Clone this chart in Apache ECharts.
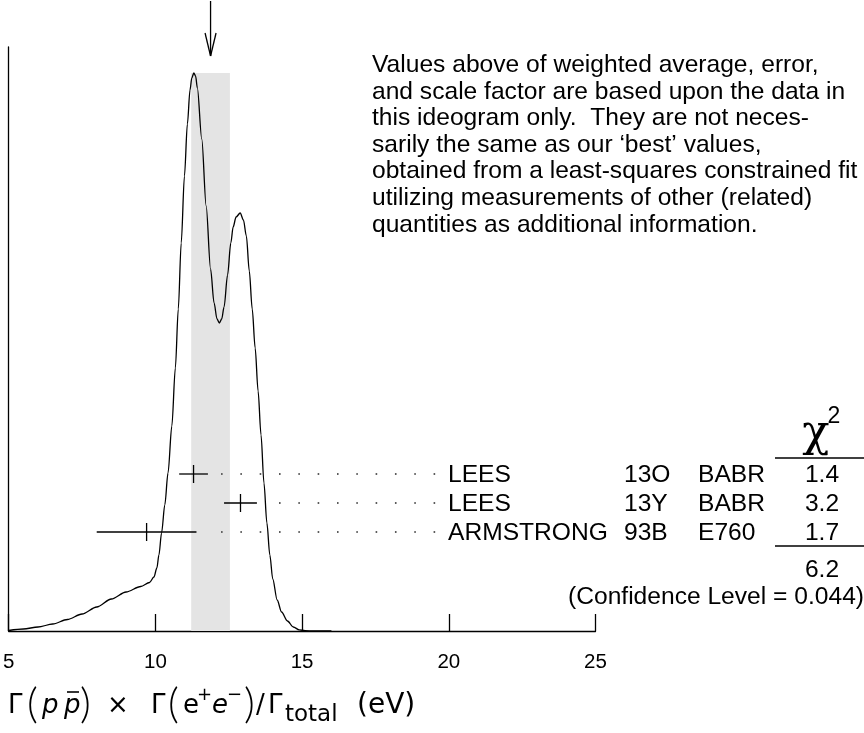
<!DOCTYPE html>
<html><head><meta charset="utf-8">
<script src="https://cdn.jsdelivr.net/npm/echarts@6.0.0/dist/echarts.min.js"></script>
<style>html,body{margin:0;padding:0;background:#fff}#c{width:864px;height:733px}</style>
</head><body><div id="c"></div>
<script>
// ---- data ----
const curveX = [5.0, 5.5, 6.0, 6.5, 7.0, 7.5, 8.0, 8.5, 9.0, 9.5, 9.8, 9.95, 10.05, 10.12, 10.21, 10.32, 10.43, 10.56, 10.68, 10.78, 10.88, 10.99, 11.09, 11.18, 11.24, 11.31, 11.37, 11.43, 11.58, 11.73, 11.88, 12.0, 12.1, 12.18, 12.26, 12.34, 12.46, 12.57, 12.65, 12.75, 12.89, 13.0, 13.1, 13.2, 13.3, 13.4, 13.5, 13.6, 13.7, 13.8, 13.9, 14.0, 14.15, 14.3, 14.5, 14.7, 14.9, 15.1, 15.4, 16.0];
const curveY = [0.5, 2, 4, 7, 11.5, 17, 24, 32, 39, 44.5, 48.5, 54, 63, 76, 98, 126, 158, 205, 263, 322, 388, 455, 507, 541, 553, 558, 555, 543, 492, 425, 362, 328, 312, 308, 312, 324, 356, 388, 404, 414, 418, 411, 395, 360, 322, 283, 240, 196, 148, 108, 76, 52, 31, 19, 10, 4, 1.2, 0.3, 0, 0];
const measNames = ['LEES', 'LEES', 'ARMSTRONG'];
const measRefs = ['13O', '13Y', '93B'];
const measExps = ['BABR', 'BABR', 'E760'];
const measValue = [11.3, 12.9, 9.7];
const measError = [0.49, 0.56, 1.7];
const measChi2 = ['1.4', '3.2', '1.7'];
const chi2Total = '6.2';
const confLevel = '0.044';
const wAverage = 11.88;
const wError = 0.66;
const xTicks = [5, 10, 15, 20, 25];
const noteText = [
  'Values above of weighted average, error,',
  'and scale factor are based upon the data in',
  'this ideogram only.  They are not neces-',
  'sarily the same as our \u2018best\u2019 values,',
  'obtained from a least-squares constrained fit',
  'utilizing measurements of other (related)',
  'quantities as additional information.'
];

// ---- layout ----
const FONT = '"Liberation Sans", Arial, Helvetica, sans-serif';
const FS = 24.6;
const ROW0 = 157, ROWSTEP = 29;      // row heights in y-axis units
const TICK = 9;
const DOT_START = 12.264, DOT_STEP = 0.6586, DOT_END = 19.6;
const Y_MAX = 584;

const chart = echarts.init(document.getElementById('c'), null, {renderer: 'canvas'});

const curveData = curveX.map((x, i) => [x, curveY[i]]);
const bandTop = Math.max.apply(null, curveY);

function blackLine(x1, y1, x2, y2, w) {
  return {type: 'line', shape: {x1, y1, x2, y2}, style: {stroke: '#000', lineWidth: w || 1.3}};
}
function txt(text, x, y, font, align, extra) {
  return Object.assign({type: 'text', x: x, y: y, z: 10,
    style: {text: text, font: font, fill: '#000', align: align || 'left', verticalAlign: 'middle',
      textAlign: align || 'left', textVerticalAlign: 'middle'}}, extra || {});
}

const graphics = [];
// note text
graphics.push({type: 'text', x: 372, y: 52, z: 10,
  style: {text: noteText.join('\n'), font: FS + 'px ' + FONT, fill: '#000', lineHeight: 26.6,
    align: 'left', verticalAlign: 'top', textAlign: 'left', textVerticalAlign: 'top'}});
// table
const colName = 448, colRef = 624, colExp = 698, colChi = 822;
const rowPy = [475.5, 504.5, 533];
measNames.forEach((n, i) => {
  const y = rowPy[i];
  graphics.push(txt(n, colName, y, FS + 'px ' + FONT, 'left'));
  graphics.push(txt(measRefs[i], colRef, y, FS + 'px ' + FONT, 'left'));
  graphics.push(txt(measExps[i], colExp, y, FS + 'px ' + FONT, 'left'));
  graphics.push(txt(measChi2[i], colChi, y, FS + 'px ' + FONT, 'center'));
});
graphics.push(txt('\u03c7', 816, 434, '45px "DejaVu Serif", serif', 'center'));
graphics.push(txt('2', 834, 417, '23px ' + FONT, 'center'));
graphics.push(blackLine(775, 458, 864, 458, 1.3));
graphics.push(blackLine(775, 546, 864, 546, 1.3));
graphics.push(txt(chi2Total, colChi, 570, FS + 'px ' + FONT, 'center'));
graphics.push(txt('(Confidence Level = ' + confLevel + ')', 864, 597, FS + 'px ' + FONT, 'right'));

// axis title pieces
const TF = '"DejaVu Sans", sans-serif';
const TY = 706;
const tN = '26px ' + TF, tI = 'italic 26px ' + TF, tP = '300 42px Lato, ' + TF, tS = '18px ' + TF, tB = '23px ' + TF;
[
  ['\u0393', 8, TY, tN], ['(', 27, TY - 2, tP], ['p', 42, TY, tI], ['p', 64, TY, tI], [')', 80, TY - 2, tP],
  ['\u00d7', 107, TY, tN], ['\u0393', 151, TY, tN], ['(', 168, TY - 2, tP], ['e', 183, TY, tN],
  ['+', 197, TY - 11, tS], ['e', 212, TY, tI], ['\u2212', 227, TY - 11, tS], [')', 244, TY - 2, tP],
  ['/', 256, TY, tN], ['\u0393', 268, TY, tN], ['total', 285, TY + 9, tB], ['(eV)', 357, TY, '28px ' + TF]
].forEach(p => graphics.push(txt(p[0], p[1], p[2], p[3], 'left')));
graphics.push(blackLine(67, 692, 79, 692, 1.6));

const option = {
  animation: false,
  backgroundColor: '#fff',
  grid: {left: 8.5, right: 268.5, top: 47, bottom: 102, containLabel: false},
  xAxis: {
    type: 'value', min: xTicks[0], max: xTicks[xTicks.length - 1], interval: 5,
    axisLine: {show: true, onZero: false, lineStyle: {color: '#000', width: 1.3}},
    axisTick: {show: true, inside: true, length: 17, lineStyle: {color: '#000', width: 1.3}},
    axisLabel: {show: true, color: '#000', fontSize: 20.5, fontFamily: FONT, margin: 21, showMinLabel: true, showMaxLabel: true},
    splitLine: {show: false}
  },
  yAxis: {
    type: 'value', min: 0, max: Y_MAX,
    axisLine: {show: true, lineStyle: {color: '#000', width: 1.3}},
    axisTick: {show: false}, axisLabel: {show: false}, splitLine: {show: false}
  },
  series: [
    { // shaded band: weighted average +/- error
      type: 'custom', z: 1, clip: false, silent: true,
      data: [[wAverage, wError]],
      renderItem(params, api) {
        const a = api.value(0), e = api.value(1);
        const p1 = api.coord([a - e, bandTop]), p2 = api.coord([a + e, 0]);
        return {type: 'rect', shape: {x: p1[0], y: p1[1], width: p2[0] - p1[0], height: p2[1] - p1[1]}, style: {fill: '#e4e4e4'}};
      }
    },
    { // ideogram curve
      type: 'line', z: 3, data: curveData, smooth: 0.3, smoothMonotone: 'x', showSymbol: false, silent: true,
      lineStyle: {color: '#000', width: 1.3}
    },
    { // arrow at weighted average
      type: 'custom', z: 4, clip: false, silent: true,
      data: [[wAverage]],
      renderItem(params, api) {
        const a = api.value(0);
        const top = api.coord([a, 630]), tip = api.coord([a, 575]);
        return {type: 'group', children: [
          blackLine(top[0], top[1], tip[0], tip[1], 1.3),
          blackLine(tip[0] - 5.5, tip[1] - 23, tip[0], tip[1], 1.3),
          blackLine(tip[0] + 5.5, tip[1] - 23, tip[0], tip[1], 1.3)
        ]};
      }
    },
    { // measurements with error bars and dotted leaders
      type: 'custom', z: 5, clip: false, silent: true,
      data: measValue.map((v, i) => [v, measError[i], i]),
      encode: {x: 0, y: 2},
      renderItem(params, api) {
        const v = api.value(0), e = api.value(1), i = api.value(2);
        const yv = ROW0 - i * ROWSTEP;
        const pL = api.coord([v - e, yv]), pR = api.coord([v + e, yv]), pC = api.coord([v, yv]);
        const ch = [
          blackLine(pL[0], pC[1], pR[0], pC[1], 1.3),
          blackLine(pC[0], pC[1] - TICK, pC[0], pC[1] + TICK, 1.3)
        ];
        let dx = DOT_START;
        while (api.coord([dx, yv])[0] <= pR[0] + 8) dx += DOT_STEP;
        for (; dx <= DOT_END; dx += DOT_STEP) {
          const p = api.coord([dx, yv]);
          ch.push({type: 'rect', shape: {x: p[0] - 0.8, y: p[1] - 0.8, width: 1.6, height: 1.6}, style: {fill: '#333'}});
        }
        return {type: 'group', children: ch};
      }
    }
  ],
  graphic: graphics
};
chart.setOption(option);
</script>
</body></html>
